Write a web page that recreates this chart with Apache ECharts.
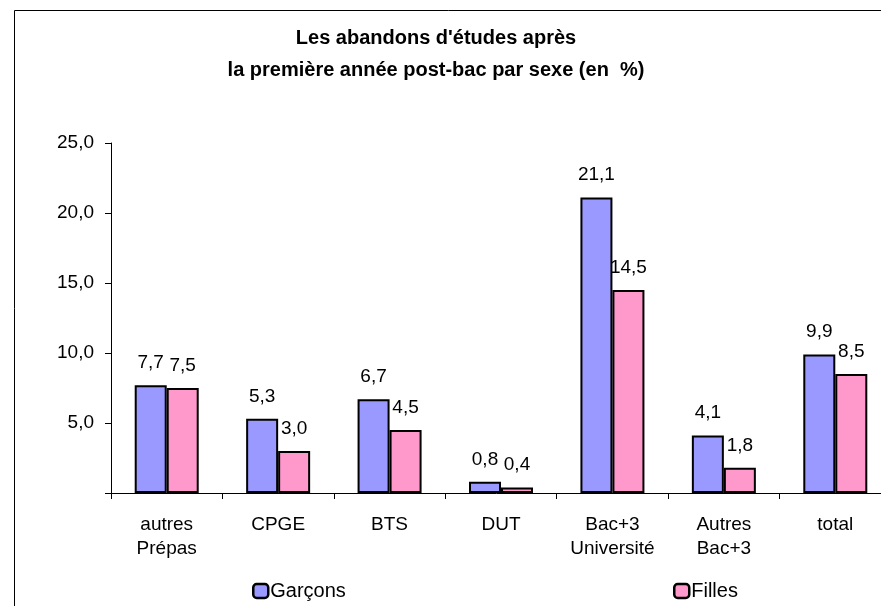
<!DOCTYPE html>
<html>
<head>
<meta charset="utf-8">
<script src="https://cdn.jsdelivr.net/npm/echarts@6/dist/echarts.min.js"></script>
<style>
  html, body { margin: 0; padding: 0; background: #fff; }
  #chart { width: 881px; height: 606px; }
</style>
</head>
<body>
<div id="chart"></div>
<script>
// categories and values
const categories = ['autres\nPrépas', 'CPGE', 'BTS', 'DUT', 'Bac+3\nUniversité', 'Autres\nBac+3', 'total']
const garcons = [7.7, 5.3, 6.7, 0.8, 21.1, 4.1, 9.9]
const filles = [7.5, 3.0, 4.5, 0.4, 14.5, 1.8, 8.5]

const fmt = v => v.toFixed(1).replace('.', ',')

const chart = echarts.init(document.getElementById('chart'))

const option = {
  animation: false,
  textStyle: { fontFamily: 'Liberation Sans, Arial, sans-serif' },
  title: {
    text: "Les abandons d'études après\nla première année post-bac par sexe (en  %)",
    left: 431,
    textAlign: 'center',
    top: 17,
    textStyle: { fontSize: 20, fontWeight: 'bold', color: '#000', lineHeight: 32 }
  },
  graphic: [{
    type: 'rect',
    shape: { x: 14.5, y: 10.5, width: 900, height: 700 },
    style: { fill: 'none', stroke: '#000', lineWidth: 1 },
    silent: true
  }],
  legend: [
    {
      data: ['Garçons'],
      left: 247, top: 576,
      itemWidth: 15, itemHeight: 14, itemGap: 0,
      itemStyle: { borderWidth: 2.5 },
      textStyle: { fontSize: 20, color: '#000', padding: [0, 0, 0, -3] }
    },
    {
      data: ['Filles'],
      left: 668, top: 576,
      itemWidth: 15, itemHeight: 14, itemGap: 0,
      itemStyle: { borderWidth: 2.5 },
      textStyle: { fontSize: 20, color: '#000', padding: [0, 0, 0, -3] }
    }
  ],
  grid: { left: 111, top: 143, width: 780, height: 350, containLabel: false, outerBoundsMode: 'none' },
  xAxis: {
    type: 'category',
    data: categories,
    axisLine: { lineStyle: { color: '#000', width: 1 } },
    axisTick: { show: true, length: 6, lineStyle: { color: '#000' } },
    axisLabel: { color: '#000', fontSize: 19, lineHeight: 24, margin: 20 }
  },
  yAxis: {
    type: 'value',
    min: 0, max: 25, interval: 5,
    splitLine: { show: false },
    axisLine: { show: true, lineStyle: { color: '#000', width: 1 } },
    axisTick: { show: true, length: 6, lineStyle: { color: '#000' } },
    axisLabel: {
      color: '#000', fontSize: 19, margin: 17,
      formatter: v => v === 0 ? '' : fmt(v)
    }
  },
  series: [
    {
      name: 'Garçons', type: 'bar', data: garcons,
      barWidth: 32, barGap: '0%',
      itemStyle: { color: '#9999FF', borderColor: '#000', borderWidth: 2 },
      label: { show: true, position: 'top', distance: 13, color: '#000', fontSize: 19, formatter: p => fmt(p.value) }
    },
    {
      name: 'Filles', type: 'bar', data: filles,
      barWidth: 32, barGap: '0%',
      itemStyle: { color: '#FF99CC', borderColor: '#000', borderWidth: 2 },
      label: { show: true, position: 'top', distance: 13, color: '#000', fontSize: 19, formatter: p => fmt(p.value) }
    }
  ]
}
chart.setOption(option)
</script>
</body>
</html>
